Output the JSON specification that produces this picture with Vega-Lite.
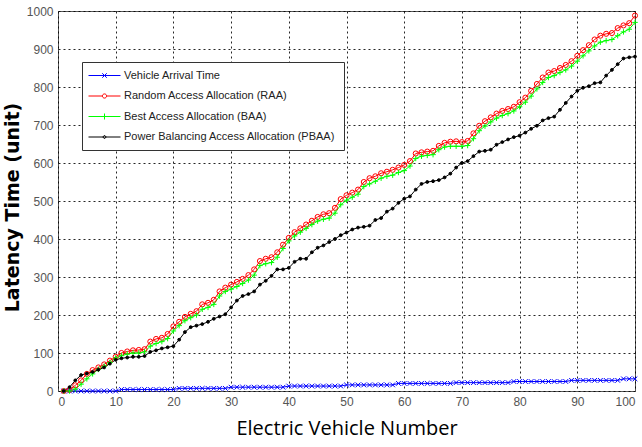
{
  "$schema": "https://vega.github.io/schema/vega-lite/v6.json",
  "width": 577,
  "height": 380,
  "autosize": {"type": "none"},
  "padding": {"left": 58, "top": 11, "right": 7, "bottom": 56},
  "background": "white",
  "config": {
    "view": {"stroke": "#555", "strokeWidth": 1},
    "axis": {
      "grid": true,
      "gridColor": "#000",
      "gridDash": [2, 3],
      "gridOpacity": 0.85,
      "gridWidth": 1,
      "ticks": false,
      "domain": false,
      "labelFont": "Liberation Sans Narrow, Liberation Sans",
      "labelFontSize": 12,
      "labelColor": "#555"
    }
  },
  "data": {
    "values": [
      {"x":1,"v":0,"r":0,"b":0,"p":0},
      {"x":2,"v":0,"r":3,"b":0,"p":10},
      {"x":3,"v":0,"r":15,"b":5,"p":28},
      {"x":4,"v":0,"r":28,"b":18,"p":42},
      {"x":5,"v":0,"r":45,"b":32,"p":46},
      {"x":6,"v":0,"r":55,"b":45,"p":50},
      {"x":7,"v":0,"r":62,"b":57,"p":56},
      {"x":8,"v":0,"r":70,"b":65,"p":62},
      {"x":9,"v":0,"r":80,"b":75,"p":72},
      {"x":10,"v":0,"r":90,"b":87,"p":82},
      {"x":11,"v":4,"r":100,"b":93,"p":86},
      {"x":12,"v":4,"r":104,"b":97,"p":88},
      {"x":13,"v":4,"r":107,"b":100,"p":90},
      {"x":14,"v":4,"r":108,"b":100,"p":90},
      {"x":15,"v":4,"r":110,"b":103,"p":92},
      {"x":16,"v":4,"r":130,"b":118,"p":103},
      {"x":17,"v":4,"r":137,"b":125,"p":107},
      {"x":18,"v":4,"r":140,"b":130,"p":112},
      {"x":19,"v":4,"r":150,"b":138,"p":115},
      {"x":20,"v":4,"r":170,"b":158,"p":118},
      {"x":21,"v":7,"r":182,"b":172,"p":135},
      {"x":22,"v":7,"r":195,"b":185,"p":155},
      {"x":23,"v":7,"r":203,"b":193,"p":168},
      {"x":24,"v":7,"r":210,"b":200,"p":172},
      {"x":25,"v":7,"r":228,"b":215,"p":176},
      {"x":26,"v":7,"r":232,"b":220,"p":182},
      {"x":27,"v":7,"r":240,"b":228,"p":190},
      {"x":28,"v":7,"r":262,"b":250,"p":196},
      {"x":29,"v":7,"r":272,"b":262,"p":202},
      {"x":30,"v":10,"r":280,"b":268,"p":220},
      {"x":31,"v":10,"r":287,"b":275,"p":238},
      {"x":32,"v":10,"r":295,"b":283,"p":250},
      {"x":33,"v":10,"r":305,"b":292,"p":255},
      {"x":34,"v":10,"r":320,"b":305,"p":262},
      {"x":35,"v":10,"r":342,"b":330,"p":280},
      {"x":36,"v":10,"r":348,"b":335,"p":290},
      {"x":37,"v":10,"r":352,"b":338,"p":303},
      {"x":38,"v":10,"r":365,"b":352,"p":320},
      {"x":39,"v":10,"r":385,"b":375,"p":320},
      {"x":40,"v":13,"r":403,"b":395,"p":324},
      {"x":41,"v":13,"r":418,"b":408,"p":340},
      {"x":42,"v":13,"r":428,"b":418,"p":348},
      {"x":43,"v":13,"r":438,"b":428,"p":348},
      {"x":44,"v":13,"r":448,"b":438,"p":365},
      {"x":45,"v":13,"r":458,"b":447,"p":377},
      {"x":46,"v":13,"r":465,"b":452,"p":383},
      {"x":47,"v":13,"r":468,"b":455,"p":392},
      {"x":48,"v":13,"r":482,"b":468,"p":400},
      {"x":49,"v":13,"r":505,"b":490,"p":410},
      {"x":50,"v":16,"r":515,"b":502,"p":417},
      {"x":51,"v":16,"r":522,"b":510,"p":425},
      {"x":52,"v":16,"r":530,"b":518,"p":430},
      {"x":53,"v":16,"r":550,"b":538,"p":432},
      {"x":54,"v":16,"r":560,"b":545,"p":435},
      {"x":55,"v":16,"r":565,"b":552,"p":450},
      {"x":56,"v":16,"r":573,"b":560,"p":455},
      {"x":57,"v":16,"r":577,"b":565,"p":472},
      {"x":58,"v":16,"r":582,"b":568,"p":480},
      {"x":59,"v":20,"r":588,"b":575,"p":495},
      {"x":60,"v":20,"r":595,"b":580,"p":506},
      {"x":61,"v":20,"r":605,"b":592,"p":512},
      {"x":62,"v":20,"r":625,"b":612,"p":530},
      {"x":63,"v":20,"r":628,"b":618,"p":545},
      {"x":64,"v":20,"r":630,"b":620,"p":550},
      {"x":65,"v":20,"r":632,"b":622,"p":552},
      {"x":66,"v":20,"r":645,"b":635,"p":555},
      {"x":67,"v":20,"r":653,"b":642,"p":562},
      {"x":68,"v":20,"r":656,"b":644,"p":572},
      {"x":69,"v":22,"r":657,"b":644,"p":588},
      {"x":70,"v":22,"r":655,"b":644,"p":600},
      {"x":71,"v":22,"r":658,"b":646,"p":605},
      {"x":72,"v":22,"r":678,"b":664,"p":618},
      {"x":73,"v":22,"r":698,"b":685,"p":630},
      {"x":74,"v":22,"r":710,"b":697,"p":632},
      {"x":75,"v":22,"r":720,"b":708,"p":635},
      {"x":76,"v":22,"r":730,"b":718,"p":648},
      {"x":77,"v":22,"r":737,"b":725,"p":655},
      {"x":78,"v":22,"r":742,"b":730,"p":662},
      {"x":79,"v":25,"r":748,"b":737,"p":668},
      {"x":80,"v":25,"r":760,"b":748,"p":672},
      {"x":81,"v":25,"r":772,"b":760,"p":680},
      {"x":82,"v":25,"r":790,"b":776,"p":690},
      {"x":83,"v":25,"r":808,"b":795,"p":698},
      {"x":84,"v":25,"r":825,"b":812,"p":712},
      {"x":85,"v":25,"r":838,"b":825,"p":718},
      {"x":86,"v":25,"r":842,"b":830,"p":722},
      {"x":87,"v":25,"r":850,"b":838,"p":740},
      {"x":88,"v":25,"r":858,"b":845,"p":758},
      {"x":89,"v":28,"r":868,"b":855,"p":775},
      {"x":90,"v":28,"r":882,"b":868,"p":790},
      {"x":91,"v":28,"r":897,"b":882,"p":798},
      {"x":92,"v":28,"r":910,"b":895,"p":802},
      {"x":93,"v":28,"r":925,"b":908,"p":810},
      {"x":94,"v":28,"r":935,"b":918,"p":812},
      {"x":95,"v":28,"r":940,"b":922,"p":830},
      {"x":96,"v":28,"r":942,"b":925,"p":845},
      {"x":97,"v":28,"r":955,"b":935,"p":860},
      {"x":98,"v":32,"r":962,"b":945,"p":875},
      {"x":99,"v":32,"r":968,"b":952,"p":878},
      {"x":100,"v":32,"r":988,"b":970,"p":880}
    ]
  },
  "transform": [{"fold": ["v", "r", "b", "p"], "as": ["series", "y"]}],
  "encoding": {
    "x": {
      "field": "x",
      "type": "quantitative",
      "scale": {"domain": [0, 100], "nice": false},
      "axis": {
        "values": [0, 10, 20, 30, 40, 50, 60, 70, 80, 90, 100],
        "labelPadding": 5,
        "title": "Electric Vehicle Number",
        "titleFont": "Open Sans",
        "titleFontSize": 20,
        "titleFontWeight": "normal",
        "titleColor": "#000",
        "titlePadding": 11
      }
    },
    "y": {
      "field": "y",
      "type": "quantitative",
      "scale": {"domain": [0, 1000], "nice": false},
      "axis": {
        "values": [0, 100, 200, 300, 400, 500, 600, 700, 800, 900, 1000],
        "format": "d",
        "labelPadding": 5,
        "title": "Latency Time (unit)",
        "titleFont": "DejaVu Sans",
        "titleFontSize": 19,
        "titleFontWeight": "bold",
        "titleColor": "#000",
        "titlePadding": 4,
        "titleY": 196
      }
    }
  },
  "layer": [
    {
      "mark": {"type": "line", "strokeWidth": 1},
      "encoding": {
        "color": {
          "field": "series",
          "type": "nominal",
          "scale": {"domain": ["v", "r", "b", "p"], "range": ["#0000ff", "#ff0000", "#00ff00", "#000000"]}
        }
      }
    },
    {
      "transform": [{"filter": {"field": "series", "equal": "v"}}],
      "mark": {"type": "point", "shape": "M-1,-1L1,1M-1,1L1,-1", "size": 22, "stroke": "#0000ff", "strokeWidth": 1, "fill": "transparent", "opacity": 1},
      "encoding": {}
    },
    {
      "transform": [{"filter": {"field": "series", "equal": "r"}}],
      "mark": {"type": "point", "shape": "circle", "size": 26, "stroke": "#ff0000", "strokeWidth": 1, "fill": "transparent", "opacity": 1},
      "encoding": {}
    },
    {
      "transform": [{"filter": {"field": "series", "equal": "b"}}],
      "mark": {"type": "point", "shape": "M-1,0H1M0,-1V1", "size": 30, "stroke": "#00ff00", "strokeWidth": 1, "fill": "transparent", "opacity": 1},
      "encoding": {}
    },
    {
      "transform": [{"filter": {"field": "series", "equal": "p"}}],
      "mark": {"type": "point", "shape": "circle", "size": 8, "stroke": "#000000", "strokeWidth": 1, "fill": "#000000", "opacity": 1},
      "encoding": {}
    },
    {
      "transform": [{"filter": "datum.x > 1000"}],
      "mark": {"type": "point", "filled": false, "size": 100, "strokeWidth": 1, "opacity": 1},
      "encoding": {
        "color": {
          "field": "series",
          "type": "nominal",
          "scale": {"domain": ["v", "r", "b", "p"], "range": ["#0000ff", "#ff0000", "#00ff00", "#000000"]},
          "legend": {
            "orient": "none",
            "legendX": 24,
            "legendY": 51,
            "title": null,
            "direction": "vertical",
            "padding": 8,
            "strokeColor": "#333",
            "fillColor": "white",
            "labelFont": "Liberation Sans Narrow, Liberation Sans",
            "labelFontSize": 11,
            "labelColor": "#222",
            "labelLimit": 400,
            "symbolSize": 100,
            "symbolStrokeWidth": 1,
            "symbolOpacity": 1,
            "rowPadding": 8.5,
            "symbolOffset": 9,
            "labelOffset": 14,
            "labelExpr": "datum.value == 'v' ? 'Vehicle Arrival Time' : datum.value == 'r' ? 'Random Access Allocation (RAA)' : datum.value == 'b' ? 'Best Access Allocation (BAA)' : 'Power Balancing Access Allocation (PBAA)'"
          }
        },
        "shape": {
          "field": "series",
          "type": "nominal",
          "scale": {
            "domain": ["v", "r", "b", "p"],
            "range": [
              "M-3.2,0H3.2M-0.45,-0.45L0.45,0.45M-0.45,0.45L0.45,-0.45",
              "M-3.2,0H-0.42M0.42,0H3.2M-0.42,0A0.42,0.42,0,1,1,0.42,0A0.42,0.42,0,1,1,-0.42,0",
              "M-3.2,0H3.2M0,-0.6V0.6",
              "M-3.2,0H3.2M-0.35,0L0,-0.35L0.35,0L0,0.35Z"
            ]
          },
          "legend": {
            "orient": "none",
            "legendX": 24,
            "legendY": 51,
            "title": null
          }
        }
      }
    }
  ]
}
